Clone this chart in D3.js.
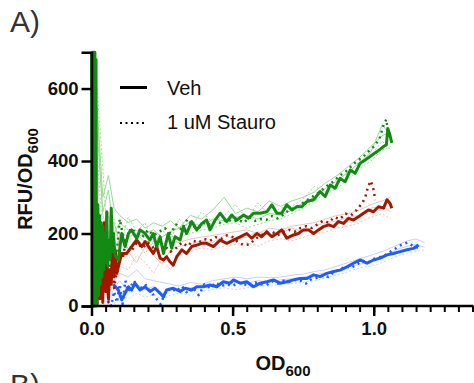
<!DOCTYPE html>
<html>
<head>
<meta charset="utf-8">
<script src="https://cdn.jsdelivr.net/npm/d3@7"></script>
<style>
  body { margin: 0; background: #fff; }
  svg { display: block; font-family: Arial, "Liberation Sans", sans-serif; }
</style>
</head>
<body>
<svg id="chart" width="474" height="383"></svg>
<script>
// ---- data: [OD600, RFU/OD600] ----
var xTicks = [0, 0.5, 1.0];
var yTicks = [0, 200, 400, 600];
var legendLabels = ["Veh", "1 uM Stauro"];

var greenVeh = [[0.000,700],[0.002,0],[0.004,700],[0.006,0],[0.008,700],[0.010,0],[0.012,700],[0.014,0],[0.016,680],[0.018,0],
  [0.022,280],[0.025,30],[0.028,250],[0.031,60],[0.034,230],[0.037,80],[0.040,220],[0.043,100],[0.046,200],[0.050,120],
  [0.054,260],[0.058,110],[0.062,180],[0.066,130],[0.070,270],[0.074,150],[0.078,200],[0.083,140],
  [0.095,127],[0.107,200],[0.119,164],[0.131,200],[0.142,210],[0.160,186],[0.172,210],[0.190,200],[0.207,182],[0.219,200],
  [0.231,164],[0.243,191],[0.255,145],[0.272,200],[0.284,160],[0.296,191],[0.314,182],[0.326,219],[0.337,200],[0.355,233],
  [0.373,210],[0.391,228],[0.408,237],[0.420,210],[0.438,237],[0.456,256],[0.479,233],[0.497,251],[0.515,237],[0.539,251],
  [0.556,242],[0.574,256],[0.598,256],[0.621,260],[0.639,279],[0.657,256],[0.674,256],[0.692,279],[0.710,265],[0.727,274],
  [0.745,274],[0.763,288],[0.787,293],[0.810,316],[0.828,302],[0.846,334],[0.863,325],[0.881,352],[0.899,343],[0.917,375],
  [0.934,366],[0.952,394],[0.970,403],[0.988,413],[1.012,426],[1.035,440],[1.045,445],[1.050,490],[1.058,470],[1.064,450]];

var greenStauro = [[0.090,150],[0.100,240],[0.110,200],[0.120,180],[0.140,215],[0.160,200],[0.180,190],[0.200,210],[0.220,195],
  [0.240,205],[0.260,215],[0.280,200],[0.300,225],[0.320,210],[0.340,240],[0.360,220],[0.380,215],[0.400,230],[0.420,225],
  [0.440,235],[0.460,228],[0.480,240],[0.500,232],[0.520,238],[0.540,230],[0.560,245],[0.580,235],[0.600,240],[0.620,238],
  [0.640,248],[0.660,242],[0.680,252],[0.700,265],[0.720,270],[0.740,280],[0.760,290],[0.780,300],[0.800,310],[0.820,322],
  [0.840,335],[0.860,345],[0.880,360],[0.900,370],[0.920,385],[0.940,400],[0.960,410],[0.980,425],[1.000,440],[1.020,460],
  [1.035,500],[1.045,515],[1.050,480],[1.060,460]];

var redVeh = [[0.020,0],[0.025,180],[0.030,20],[0.035,150],[0.040,10],[0.045,230],[0.050,40],[0.055,120],[0.060,20],[0.065,100],
  [0.070,60],[0.075,200],[0.080,80],[0.085,150],[0.090,90],
  [0.095,108],[0.107,145],[0.125,145],[0.142,164],[0.160,182],[0.178,164],[0.190,178],[0.202,164],[0.219,145],[0.231,164],
  [0.243,132],[0.255,127],[0.266,136],[0.278,122],[0.290,113],[0.302,136],[0.320,155],[0.337,145],[0.355,164],[0.373,168],
  [0.391,173],[0.408,173],[0.432,164],[0.456,182],[0.479,173],[0.503,182],[0.527,191],[0.550,200],[0.568,187],[0.586,200],
  [0.603,191],[0.621,205],[0.639,191],[0.657,200],[0.674,210],[0.692,187],[0.716,196],[0.733,200],[0.751,210],[0.769,210],
  [0.787,200],[0.804,210],[0.822,219],[0.840,224],[0.858,219],[0.875,233],[0.893,228],[0.911,242],[0.928,237],[0.946,246],
  [0.964,256],[0.981,265],[0.999,260],[1.017,274],[1.035,270],[1.047,293],[1.058,283],[1.064,270]];

var redStauro = [[0.030,250],[0.040,30],[0.050,200],[0.060,10],[0.070,180],[0.080,50],[0.090,100],[0.100,150],[0.110,130],
  [0.120,170],[0.140,150],[0.160,175],[0.180,160],[0.200,175],[0.220,160],[0.240,150],[0.260,165],[0.280,150],[0.300,160],
  [0.320,175],[0.340,165],[0.360,180],[0.380,175],[0.400,185],[0.420,180],[0.440,190],[0.460,185],[0.480,195],[0.500,190],
  [0.520,175],[0.540,168],[0.560,170],[0.580,185],[0.600,195],[0.620,200],[0.640,205],[0.660,195],[0.680,205],[0.700,210],
  [0.720,205],[0.740,215],[0.760,220],[0.780,215],[0.800,225],[0.820,235],[0.840,230],[0.860,245],[0.880,240],[0.900,255],
  [0.920,250],[0.940,265],[0.960,285],[0.970,300],[0.980,330],[0.990,345],[1.000,320],[1.005,292]];

var blueVeh = [[0.077,60],[0.095,44],[0.107,17],[0.119,35],[0.131,53],[0.142,44],[0.154,63],[0.172,44],[0.190,53],[0.207,40],
  [0.225,49],[0.243,35],[0.255,25],[0.266,44],[0.290,49],[0.314,40],[0.332,49],[0.355,44],[0.373,53],[0.397,53],[0.420,58],
  [0.444,53],[0.467,67],[0.491,63],[0.503,72],[0.527,63],[0.550,67],[0.574,53],[0.598,63],[0.621,67],[0.645,72],[0.668,63],
  [0.692,67],[0.716,72],[0.739,76],[0.763,76],[0.787,86],[0.810,81],[0.834,90],[0.858,95],[0.881,99],[0.905,108],[0.928,118],
  [0.952,127],[0.976,118],[0.999,127],[1.023,132],[1.047,141],[1.070,145],[1.094,150],[1.118,155],[1.141,159],[1.159,168]];

var blueStauro = [[0.060,20],[0.070,0],[0.080,40],[0.090,10],[0.100,60],[0.110,5],[0.120,70],[0.130,40],[0.150,70],[0.170,45],
  [0.190,60],[0.210,40],[0.230,20],[0.245,5],[0.260,35],[0.280,50],[0.300,40],[0.320,55],[0.340,35],[0.360,50],[0.380,30],
  [0.400,60],[0.420,50],[0.440,65],[0.460,55],[0.480,60],[0.500,55],[0.520,65],[0.540,60],[0.560,55],[0.580,65],[0.600,60],
  [0.620,58],[0.640,68],[0.660,62],[0.680,70],[0.700,66],[0.720,72],[0.740,70],[0.760,62],[0.780,75],[0.800,78],[0.820,85],
  [0.840,80],[0.860,95],[0.880,100],[0.900,110],[0.920,105],[0.940,115],[0.960,125],[0.980,120],[1.000,130],[1.020,135],
  [1.040,140],[1.060,150],[1.080,160],[1.100,170],[1.120,175],[1.140,165],[1.160,160]];

// replicate wells (thin, light)
var repX = [0.02,0.04,0.06,0.08,0.10,0.13,0.16,0.19,0.22,0.25,0.28,0.31,0.35,0.39,0.43,0.47,0.51,0.55,0.59,0.63,
  0.67,0.71,0.75,0.79,0.83,0.87,0.91,0.95,0.99,1.03,1.06,1.09,1.12,1.15,1.18];
var greenRep1 = [550,300,360,270,250,230,240,215,230,220,235,215,250,240,265,300,255,270,260,290,275,290,300,315,340,360,385,410,440,470,480];
var greenRep2 = [420,200,250,170,180,160,175,145,180,165,150,190,200,210,215,225,230,215,225,235,240,255,270,290,310,325,350,380,400,430,440];
var greenRep3 = [480,260,320,200,230,210,190,200,210,190,205,215,230,220,240,235,245,250,240,255,250,265,285,300,325,345,370,395,425,500,470];
var greenRep4 = [600,380,150,240,160,245,205,230,165,210,180,240,215,260,230,250,280,240,285,250,270,275,295,330,315,350,365,400,415,455,430];
var redRep1 = [540,250,200,230,170,190,200,175,185,170,180,175,185,190,195,200,205,210,200,215,210,220,225,230,240,250,255,265,280,290,300];
var redRep2 = [300,120,90,60,110,100,140,120,90,130,100,140,150,160,155,165,170,175,165,180,185,180,190,200,205,215,220,230,245,255,240];
var redRep3 = [400,60,260,120,200,150,120,165,140,115,155,165,170,180,175,195,185,190,205,195,200,215,205,220,230,235,245,250,270,275,260];
var blueRep1 = [60,30,80,70,90,80,100,75,70,65,60,55,65,60,70,75,80,75,80,78,80,85,88,95,100,110,120,130,140,150,160,170,180,185,175];
var blueRep2 = [10,0,20,5,30,20,35,25,30,20,30,35,30,40,45,50,45,50,55,55,60,62,65,70,78,85,95,105,110,120,130,140,145,150,155];
var blueRep3 = [30,80,10,50,70,40,60,45,55,35,50,45,50,55,60,58,65,62,70,66,72,75,80,85,92,98,108,115,125,138,148,158,165,170,162];

var svg = d3.select("#chart");
var margin = {top: 52.3, left: 91.5};
var plotW = 381, plotH = 253.7;

var x = d3.scaleLinear().domain([0, 1.35]).range([margin.left, margin.left + plotW]);
var y = d3.scaleLinear().domain([0, 700]).range([margin.top + plotH, margin.top]);

var line = d3.line().x(function(d){ return x(d[0]); }).y(function(d){ return y(d[1]); });

function reps(vals) {
  return vals.map(function(v, i){ return [repX[i], v]; });
}

// light replicate lines
var repLines = [
  {data: reps(blueRep1), color: "#c2d2ff", dash: null},
  {data: reps(blueRep2), color: "#c2d2ff", dash: "2,2"},
  {data: reps(blueRep3), color: "#c2d2ff", dash: null},
  {data: reps(redRep1), color: "#efc2be", dash: null},
  {data: reps(redRep2), color: "#efc2be", dash: "2,2"},
  {data: reps(redRep3), color: "#efc2be", dash: null},
  {data: reps(greenRep1), color: "#96db96", dash: null},
  {data: reps(greenRep2), color: "#96db96", dash: "2,2"},
  {data: reps(greenRep3), color: "#96db96", dash: null},
  {data: reps(greenRep4), color: "#96db96", dash: "2,2"}
];
svg.append("g").selectAll("path")
  .data(repLines)
  .enter().append("path")
    .attr("d", function(d){ return line(d.data); })
    .attr("fill", "none")
    .attr("stroke", function(d){ return d.color; })
    .attr("stroke-width", 1)
    .attr("stroke-dasharray", function(d){ return d.dash; });

// mean lines
var mainLines = [
  {data: blueStauro, color: "#1f5cff", dotted: true},
  {data: blueVeh, color: "#1f5cff", dotted: false},
  {data: redStauro, color: "#a01800", dotted: true},
  {data: redVeh, color: "#a01800", dotted: false},
  {data: greenStauro, color: "#138a13", dotted: true},
  {data: greenVeh, color: "#138a13", dotted: false}
];
svg.append("g").selectAll("path")
  .data(mainLines)
  .enter().append("path")
    .attr("d", function(d){ return line(d.data); })
    .attr("fill", "none")
    .attr("stroke", function(d){ return d.color; })
    .attr("stroke-width", function(d){ return d.dotted ? 2.5 : 3; })
    .attr("stroke-linejoin", "round")
    .attr("stroke-dasharray", function(d){ return d.dotted ? "2,4" : null; });

// axes
var xAxis = svg.append("g")
  .attr("transform", "translate(0," + y(0) + ")")
  .call(d3.axisBottom(x).tickValues(d3.range(0, 27.5).map(function(i){ return i * 0.05; }))
    .tickSize(6).tickFormat(""));
xAxis.select(".domain").remove();
xAxis.selectAll("line").attr("stroke", "#000").attr("stroke-width", 2);

var xMajor = svg.append("g")
  .attr("transform", "translate(0," + y(0) + ")")
  .call(d3.axisBottom(x).tickValues(xTicks).tickSize(10).tickPadding(6).tickFormat(d3.format(".1f")));
xMajor.select(".domain").remove();
xMajor.selectAll("line").attr("stroke", "#000").attr("stroke-width", 2.5);
xMajor.selectAll("text").attr("font-size", "18.5px").attr("font-weight", "bold").attr("fill", "#111")
  .attr("font-family", "Arial, 'Liberation Sans', sans-serif");

svg.append("line")
  .attr("x1", x(0) - 1).attr("x2", x(1.35) + 1)
  .attr("y1", y(0)).attr("y2", y(0))
  .attr("stroke", "#000").attr("stroke-width", 2.5);

var yAxis = svg.append("g")
  .attr("transform", "translate(" + x(0) + ",0)")
  .call(d3.axisLeft(y).tickValues(yTicks).tickSize(10).tickPadding(3));
yAxis.select(".domain").attr("stroke-width", 2.5);
yAxis.selectAll("line").attr("stroke", "#000").attr("stroke-width", 2.5);
yAxis.selectAll("text").attr("font-size", "18.5px").attr("font-weight", "bold").attr("fill", "#111")
  .attr("font-family", "Arial, 'Liberation Sans', sans-serif");

// axis titles
var xt = svg.append("text")
  .attr("x", 283).attr("y", 370)
  .attr("text-anchor", "middle")
  .attr("font-size", "20px").attr("font-weight", "bold").attr("fill", "#111");
xt.append("tspan").text("OD");
xt.append("tspan").attr("font-size", "15px").attr("dy", 6).text("600");

var yt = svg.append("text")
  .attr("transform", "translate(32,179) rotate(-90)")
  .attr("text-anchor", "middle")
  .attr("font-size", "20px").attr("font-weight", "bold").attr("fill", "#111");
yt.append("tspan").text("RFU/OD");
yt.append("tspan").attr("font-size", "15px").attr("dy", 6).text("600");

// legend
var legend = svg.append("g");
legend.append("line").attr("x1", 120).attr("x2", 147).attr("y1", 87.5).attr("y2", 87.5)
  .attr("stroke", "#000").attr("stroke-width", 3);
legend.append("line").attr("x1", 120).attr("x2", 144).attr("y1", 123).attr("y2", 123)
  .attr("stroke", "#000").attr("stroke-width", 2).attr("stroke-dasharray", "2,3.5");
legend.selectAll("text.lab")
  .data(legendLabels)
  .enter().append("text")
    .attr("class", "lab")
    .attr("x", 167)
    .attr("y", function(d, i){ return 95 + i * 34; })
    .attr("font-size", "20px").attr("fill", "#111")
    .text(function(d){ return d; });

// panel letters (B is cut by the bottom edge, as in the source figure)
svg.append("text").attr("x", 10).attr("y", 32).attr("font-size", "30px").attr("fill", "#333").text("A)");
svg.append("text").attr("x", 10).attr("y", 395).attr("font-size", "30px").attr("fill", "#333").text("B)");
</script>
</body>
</html>
